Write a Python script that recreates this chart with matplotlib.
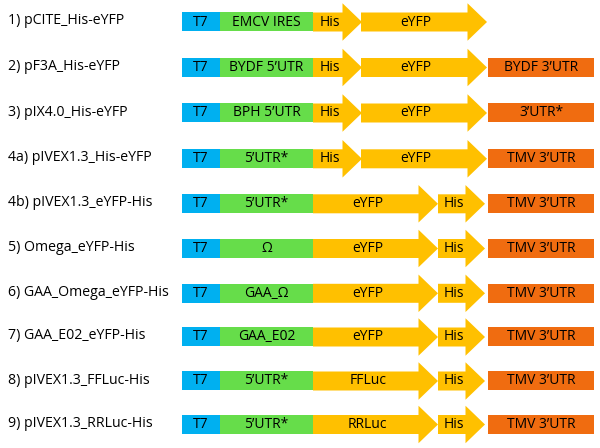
import matplotlib
matplotlib.use("Agg")
import matplotlib.pyplot as plt
from matplotlib.patches import Rectangle, FancyArrow

# construct names (left column)
constructs = ["1) pCITE_His-eYFP", "2) pF3A_His-eYFP", "3) pIX4.0_His-eYFP",
              "4a) pIVEX1.3_His-eYFP", "4b) pIVEX1.3_eYFP-His", "5) Omega_eYFP-His",
              "6) GAA_Omega_eYFP-His", "7) GAA_E02_eYFP-His", "8) pIVEX1.3_FFLuc-His",
              "9) pIVEX1.3_RRLuc-His"]
row_y = [22, 67.5, 113, 158.8, 203.8, 248.5, 293.3, 337, 381, 424.5]

# elements of each construct: (label, kind, start, end)
promoter = ("T7", "promoter", 182, 220)
his_first = [("His", "cds", 313, 362), ("eYFP", "cds", 361, 487)]
his_last = [("His", "cds", 438, 485), ("TMV 3\u2019UTR", "utr3", 488, 594)]

elements = [
    [promoter, ("EMCV IRES", "utr5", 220, 313)] + his_first,
    [promoter, ("BYDF 5\u2019UTR", "utr5", 220, 313)] + his_first + [("BYDF 3\u2019UTR", "utr3", 488, 594)],
    [promoter, ("BPH 5\u2019UTR", "utr5", 220, 313)] + his_first + [("3\u2019UTR*", "utr3", 488, 594)],
    [promoter, ("5\u2019UTR*", "utr5", 220, 313)] + his_first + [("TMV 3\u2019UTR", "utr3", 488, 594)],
    [promoter, ("5\u2019UTR*", "utr5", 220, 313), ("eYFP", "cds", 313, 438)] + his_last,
    [promoter, ("\u03a9", "utr5", 220, 313), ("eYFP", "cds", 313, 438)] + his_last,
    [promoter, ("GAA_\u03a9", "utr5", 220, 313), ("eYFP", "cds", 313, 438)] + his_last,
    [promoter, ("GAA_E02", "utr5", 220, 313), ("eYFP", "cds", 313, 438)] + his_last,
    [promoter, ("5\u2019UTR*", "utr5", 220, 313), ("FFLuc", "cds", 313, 438)] + his_last,
    [promoter, ("5\u2019UTR*", "utr5", 220, 313), ("RRLuc", "cds", 313, 438)] + his_last,
]

colors = {"promoter": "#00B0F0", "utr5": "#66DD4A", "cds": "#FFC000", "utr3": "#F06C10"}
box_h = 19
head_w = 37.5
head_len = 19.5

plt.rcParams['font.family'] = ['Open Sans', 'DejaVu Sans']
fig = plt.figure(figsize=(6, 4.48), dpi=100)
ax = fig.add_axes([0, 0, 1, 1])
ax.set_xlim(0, 600)
ax.set_ylim(448, 0)
ax.axis("off")

for name, y, row in zip(constructs, row_y, elements):
    ax.text(8, y - 1, name, fontsize=10.2, ha="left", va="center", color="black")
    for label, kind, x0, x1 in row:
        c = colors[kind]
        if kind == "cds":
            ax.add_patch(FancyArrow(x0, y, x1 - x0, 0, width=box_h, head_width=head_w,
                                    head_length=head_len, length_includes_head=True,
                                    color=c, lw=0))
            cx = x0 + (x1 - x0 - head_len) / 2 + 2
        else:
            ax.add_patch(Rectangle((x0, y - box_h / 2), x1 - x0, box_h, color=c, lw=0))
            cx = (x0 + x1) / 2
        ax.text(cx, y, label, fontsize=10, ha="center", va="center", color="black")

fig.savefig("out.png", dpi=100)
